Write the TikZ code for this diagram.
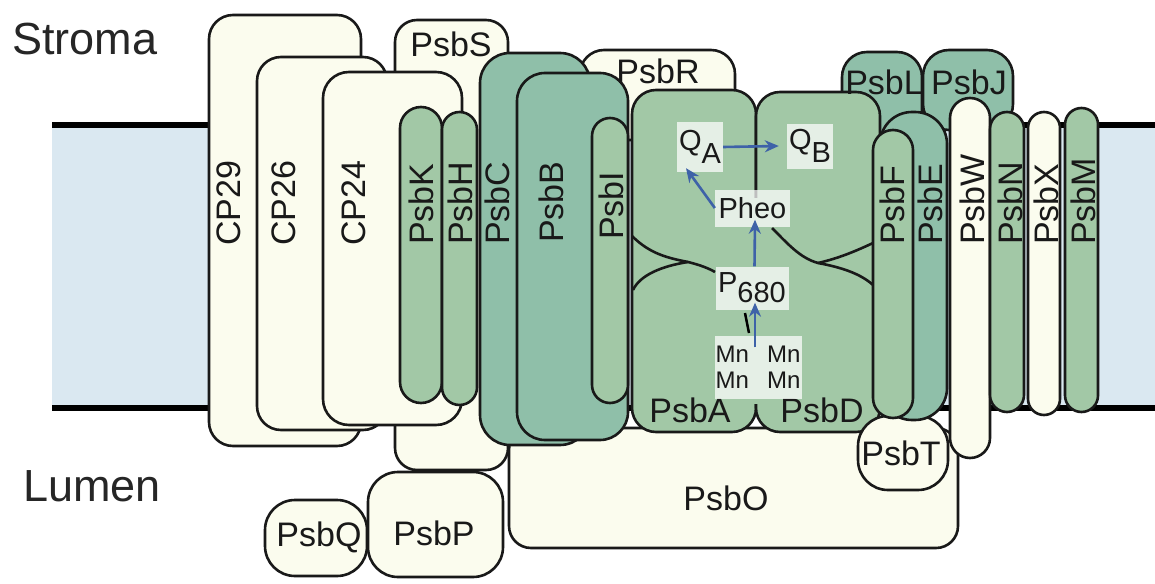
\documentclass[tikz,border=0pt]{standalone}
\usepackage{fontspec}
\setmainfont{Liberation Sans}
\usetikzlibrary{arrows.meta}
\definecolor{cream}{HTML}{FBFCEE}
\definecolor{tealg}{HTML}{8FBFA9}
\definecolor{leafg}{HTML}{A2C8A6}
\definecolor{membl}{HTML}{DAE8F1}
\definecolor{arrbl}{HTML}{3E62A8}
\newcommand\protbox[6]{\draw[#1,rounded corners=#6] (#2,#3) rectangle (#4,#5);}
\begin{document}
\begin{tikzpicture}[x=1pt,y=-1pt,
  outl/.style={draw=black!90,line width=2.6pt},
  lightbox/.style={outl,fill=cream},
  tealbox/.style={outl,fill=tealg},
  leafbox/.style={outl,fill=leafg},
  notch/.style={draw=black!90,line width=2.6pt},
  lab/.style={font=\fontsize{34}{40}\selectfont,inner sep=0pt,text=black!90},
  rlab/.style={lab,rotate=90,anchor=west},
  side/.style={font=\fontsize{45}{54}\selectfont,inner sep=0pt,anchor=base west,text=black!85},
  cof/.style={fill=white,fill opacity=0.72,text opacity=1,inner sep=0pt,font=\fontsize{29}{34}\selectfont,text=black!90},
  arr/.style={draw=arrbl,line width=2.6pt,-{Stealth[length=14pt,width=12pt]}},
]
\useasboundingbox (0,0) rectangle (1155,583);
\fill[white] (0,0) rectangle (1155,583);
% membrane
\fill[membl] (52,125) rectangle (1155,408);
\draw[line width=6pt] (52,125) -- (1155,125);
\draw[line width=6pt] (52,408) -- (1155,408);
% antenna side
\protbox{lightbox}{209}{15}{361}{446}{24pt}
\protbox{lightbox}{257}{57}{387}{430}{24pt}
\protbox{lightbox}{395}{20}{508}{470}{22pt}
\protbox{lightbox}{323}{72}{462}{425}{26pt}
\protbox{leafbox}{400}{107}{442}{403}{21pt}
\protbox{leafbox}{442}{112}{477}{405}{17.5pt}
% PsbO, PsbR
\protbox{lightbox}{509}{428}{958}{548}{22pt}
\protbox{lightbox}{580}{50}{735}{140}{24pt}
% core
\protbox{tealbox}{480}{53}{590}{445}{30pt}
\protbox{tealbox}{517}{73}{628}{440}{28pt}
\protbox{leafbox}{592}{118}{628}{403}{18pt}
\protbox{tealbox}{842}{52}{922}{140}{25pt}
\protbox{tealbox}{923}{50}{1013}{130}{26pt}
\protbox{leafbox}{632}{90}{756}{432}{24pt}
\protbox{leafbox}{756}{92}{880}{432}{24pt}
\fill[leafg] (748,198) rectangle (764,404);
% notches
\draw[notch] (632,236) .. controls (650,254) and (668,258) .. (688,262) .. controls (700,265) and (708,268) .. (715,272);
\draw[notch] (688,262) .. controls (662,266) and (640,275) .. (633,290);
\draw[notch] (772,228) .. controls (788,244) and (800,258) .. (818,263) .. controls (845,268) and (862,275) .. (873,285);
\draw[notch] (818,263) .. controls (840,258) and (858,250) .. (873,243);
% right side
\protbox{lightbox}{858}{416}{948}{490}{30pt}
\protbox{tealbox}{880}{112}{947}{420}{32pt}
\protbox{leafbox}{873}{130}{913}{418}{20pt}
\protbox{lightbox}{950}{98}{990}{458}{20pt}
\protbox{leafbox}{990}{112}{1024}{412}{17pt}
\protbox{lightbox}{1028}{112}{1060}{415}{16pt}
\protbox{leafbox}{1065}{108}{1098}{412}{16.5pt}
% lumen extrinsic
\protbox{lightbox}{368}{472}{503}{577}{30pt}
\protbox{lightbox}{265}{500}{367}{576}{30pt}
% side labels
\node[side] (stroma) at (12,55) {Stroma};
\node[side] (lumen) at (23,501) {Lumen};
% rotated labels
\node[rlab] (lcp29) at (229,246) {CP29};
\node[rlab] (lcp26) at (284,246) {CP26};
\node[rlab] (lcp24) at (354,246) {CP24};
\node[rlab] (lpsbk) at (421,245) {PsbK};
\node[rlab] (lpsbh) at (460,245) {PsbH};
\node[rlab] (lpsbc) at (497,245) {PsbC};
\node[rlab] (lpsbb) at (551,243) {PsbB};
\node[rlab] (lpsbi) at (611,240) {PsbI};
\node[rlab] (lpsbf) at (892,245) {PsbF};
\node[rlab] (lpsbe) at (930,245) {PsbE};
\node[rlab] (lpsbw) at (972,245) {PsbW};
\node[rlab] (lpsbn) at (1010,245) {PsbN};
\node[rlab] (lpsbx) at (1046,245) {PsbX};
\node[rlab] (lpsbm) at (1083,245) {PsbM};
% horizontal labels
\node[lab] (lpsbs) at (451,44) {PsbS};
\node[lab] (lpsbr) at (658,71) {PsbR};
\node[lab] (lpsbl) at (884,82) {PsbL};
\node[lab] (lpsbj) at (969,82) {PsbJ};
\node[lab] (lpsba) at (690,410) {PsbA};
\node[lab] (lpsbd) at (822,410) {PsbD};
\node[lab] (lpsbt) at (901,453) {PsbT};
\node[lab] (lpsbo) at (726,498) {PsbO};
\node[lab] (lpsbp) at (434,533) {PsbP};
\node[lab] (lpsbq) at (319,537) {PsbQ};
% cofactors
\node[cof,minimum width=46pt,minimum height=50pt] (qa) at (700,147) {Q\raisebox{-0.45em}{A}};
\node[cof,minimum width=46pt,minimum height=45pt] (qb) at (810,146) {Q\raisebox{-0.45em}{B}};
\node[cof,minimum width=75pt,minimum height=37pt] (pheo) at (752.5,208) {Pheo};
\node[cof,minimum width=73pt,minimum height=43pt] (p680) at (752,288) {P\raisebox{-0.35em}{680}};
\node[cof,minimum width=87pt,minimum height=63pt,align=center,font=\fontsize{24}{26}\selectfont] (mn) at (758,367) {Mn\hspace{18pt}Mn\\Mn\hspace{18pt}Mn};
\draw[line width=2.5pt] (745,313) -- (749,333);
% electron transfer
\draw[arr] (qa.east) -- ([xshift=-8pt]qb.west);
\draw[arr] (pheo.west) -- ([xshift=-14pt,yshift=4pt]qa.south);
\draw[arr] ([xshift=2.5pt]p680.north) -- ([xshift=2.5pt,yshift=7pt]pheo.south);
\draw[arr] ([xshift=-3pt,yshift=-12pt]mn.north) -- ([xshift=3pt,yshift=7pt]p680.south);
\end{tikzpicture}
\end{document}
